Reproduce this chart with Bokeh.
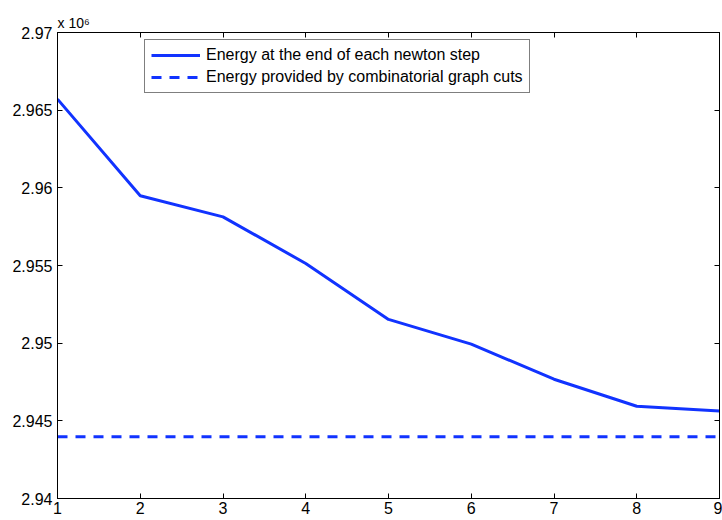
from bokeh.plotting import figure
from bokeh.models import (Range1d, LinearAxis, FixedTicker, Legend, LegendItem,
                          CustomJSTickFormatter)
from bokeh.embed import file_html
from bokeh.resources import INLINE

# ---- data (energy in units of 10^6) ----
newton_step = [1, 2, 3, 4, 5, 6, 7, 8, 9]
energy_newton = [2.96571, 2.95949, 2.95813, 2.95513, 2.95153, 2.94994, 2.94768, 2.94594, 2.94564]
energy_graphcut = [2.94398] * len(newton_step)
x_ticks = [1, 2, 3, 4, 5, 6, 7, 8, 9]
y_ticks = [2.94, 2.945, 2.95, 2.955, 2.96, 2.965, 2.97]
y_tick_labels = ["2.94", "2.945", "2.95", "2.955", "2.96", "2.965", "2.97"]
label_newton = "Energy at the end of each newton step"
label_graphcut = "Energy provided by combinatorial graph cuts"
scale_text = "x 10\u2076"

FONT = "Liberation Sans"
BLUE = "#1133ff"

p = figure(width=722, height=520, output_backend="svg", toolbar_location=None,
           x_range=Range1d(1, 9), y_range=Range1d(2.94, 2.97),
           min_border_left=57, min_border_right=3, min_border_top=32, min_border_bottom=22)
p.xgrid.visible = False
p.ygrid.visible = False
p.background_fill_color = "white"
p.border_fill_color = "white"
p.outline_line_color = "black"
p.outline_line_width = 1

p.title.text = scale_text
p.title.align = "left"
p.title.text_font = FONT
p.title.text_font_size = "14px"
p.title.text_font_style = "normal"
p.title.text_color = "black"
p.title.standoff = 4
p.title.offset = 0

def style_axis(ax, ticks, labels=True):
    ax.ticker = FixedTicker(ticks=ticks)
    ax.minor_tick_line_color = None
    ax.major_tick_in = 5
    ax.major_tick_out = 0
    ax.axis_line_color = "black"
    ax.major_tick_line_color = "black"
    ax.major_label_text_font = FONT
    ax.major_label_text_font_size = "16px"
    ax.major_label_text_color = "black"
    if not labels:
        ax.formatter = CustomJSTickFormatter(code="return '';")
        ax.major_label_standoff = 0

xa = p.xaxis[0]
style_axis(xa, x_ticks)
xa.major_label_standoff = 3
ya = p.yaxis[0]
style_axis(ya, y_ticks)
ya.major_label_standoff = 5
ya.major_label_overrides = {t: s for t, s in zip(y_ticks, y_tick_labels)}

top = LinearAxis()
style_axis(top, x_ticks, labels=False)
p.add_layout(top, "above")
right = LinearAxis()
style_axis(right, y_ticks, labels=False)
p.add_layout(right, "right")

r1 = p.line(newton_step, energy_newton, line_color=BLUE, line_width=3)
r2 = p.line(newton_step, energy_graphcut, line_color=BLUE, line_width=3, line_dash="10 8")

legend = Legend(items=[LegendItem(label=label_newton, renderers=[r1]),
                       LegendItem(label=label_graphcut, renderers=[r2])],
                location=(87, 405), orientation="vertical")
legend.border_line_color = "black"
legend.border_line_width = 1
legend.background_fill_color = "white"
legend.background_fill_alpha = 1
legend.label_text_font = FONT
legend.label_text_font_size = "16px"
legend.label_text_color = "black"
legend.glyph_width = 49
legend.glyph_height = 18
legend.label_height = 18
legend.label_standoff = 6
legend.spacing = 4
legend.padding = 6
legend.margin = 0
p.add_layout(legend, "center")

open("out.html", "w").write(file_html(p, INLINE))
